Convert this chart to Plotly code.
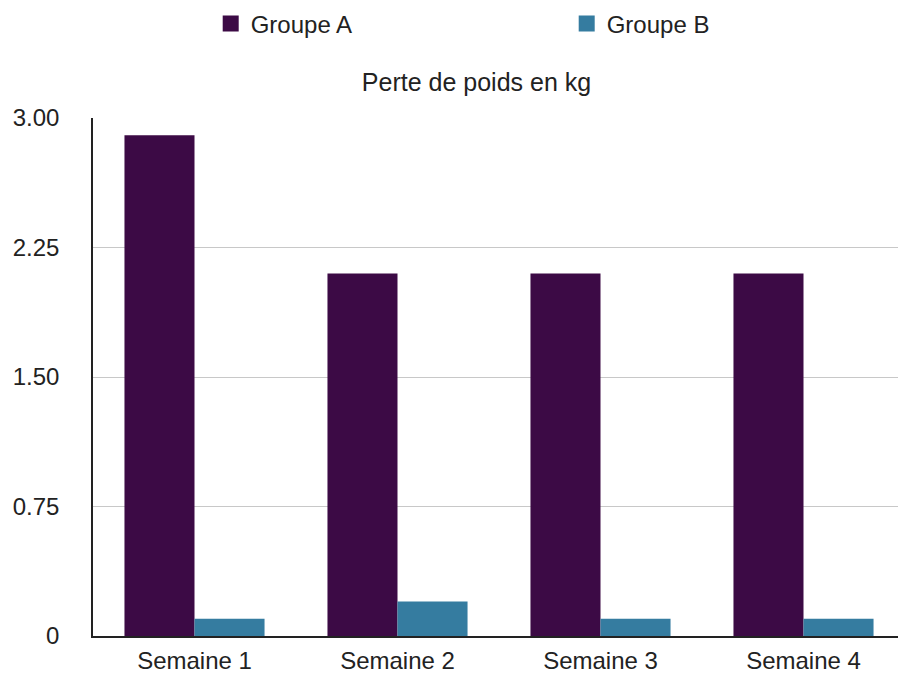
import plotly.graph_objects as go

categories = ["Semaine 1", "Semaine 2", "Semaine 3", "Semaine 4"]
groupe_a = [2.9, 2.1, 2.1, 2.1]
groupe_b = [0.1, 0.2, 0.1, 0.1]
tick_vals = [0, 0.75, 1.5, 2.25, 3.0]
tick_text = ["0", "0.75", "1.50", "2.25", "3.00"]
series_names = ["Groupe A", "Groupe B"]
series_colors = ["#3c0a45", "#357ca0"]

FONT = "Liberation Sans, Arial, sans-serif"
W, H = 898, 665  # page body has an 8px margin

fig = go.Figure()
for name, vals, col in zip(series_names, [groupe_a, groupe_b], series_colors):
    fig.add_trace(go.Bar(name=name, x=categories, y=vals, showlegend=False,
                         marker=dict(color=col, line=dict(width=0))))
# legend entries with large square swatches
for name, col in zip(series_names, series_colors):
    fig.add_trace(go.Scatter(name=name, x=[None], y=[None], mode="markers",
                             marker=dict(symbol="square", size=18, color=col),
                             showlegend=True, hoverinfo="skip"))

plot_left = 85
plot_w = W - plot_left - 1

fig.update_layout(
    width=W, height=H,
    paper_bgcolor="white", plot_bgcolor="white",
    font=dict(family=FONT, size=24, color="#222222"),
    barmode="group", bargap=0.31, bargroupgap=0,
    margin=dict(l=plot_left, r=1, t=110, b=37, autoexpand=False),
    title=dict(text="Perte de poids en kg", x=(468.5 - plot_left) / plot_w, xref="paper",
               xanchor="center",
               y=1 - 74 / H, yref="container", yanchor="middle",
               font=dict(size=25, color="#222222")),
    legend=dict(orientation="h", x=(230.7 - 8 - 20 - plot_left) / plot_w, xref="paper",
                xanchor="left",
                y=1 - 16 / H, yref="container", yanchor="middle",
                entrywidth=311, entrywidthmode="pixels", itemsizing="trace",
                font=dict(size=24, color="#222222"), itemclick=False),
    xaxis=dict(showline=True, linecolor="#222222", linewidth=1.5, ticks="",
               showgrid=False, automargin=False, ticklabelstandoff=2),
    yaxis=dict(range=[0, 3.0], tickvals=tick_vals, ticktext=tick_text,
               showline=True, linecolor="#222222", linewidth=1.5,
               showgrid=True, gridcolor="#c8c8c8", gridwidth=1,
               zeroline=False, ticks="", automargin=False, ticklabelstandoff=27),
)

fig.write_html("out.html")
